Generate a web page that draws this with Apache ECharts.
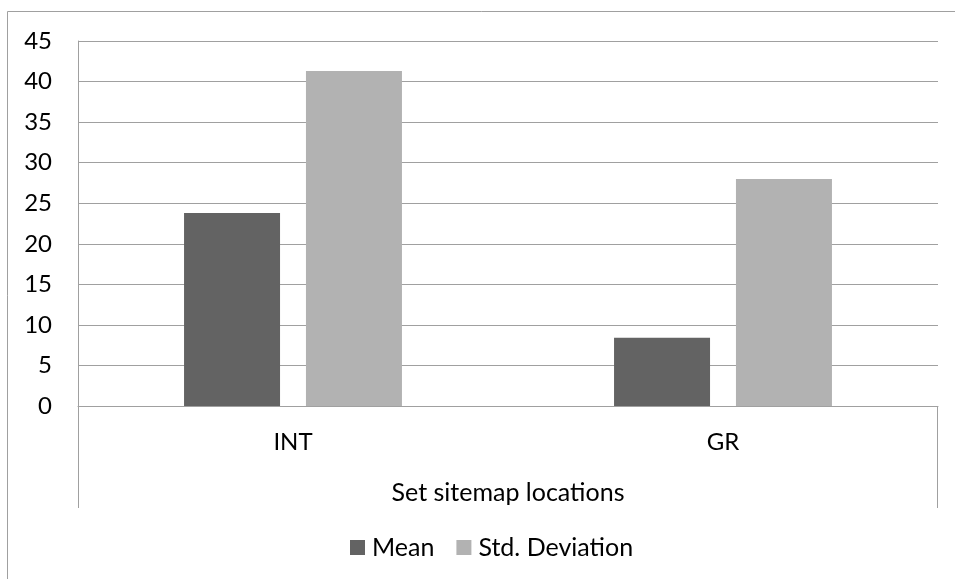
<!DOCTYPE html>
<html>
<head>
<meta charset="utf-8">
<script src="https://cdn.jsdelivr.net/npm/echarts@6/dist/echarts.min.js"></script>
<style>
html,body{margin:0;padding:0;background:#fff;}
#chart{width:955px;height:579px;}
</style>
</head>
<body>
<div id="chart"></div>
<script>
const categories = ['INT', 'GR'];
const meanValues = [23.8, 8.4];
const stdValues = [41.3, 28.0];
const seriesNames = ['Mean', 'Std. Deviation'];
const axisTitle = 'Set sitemap locations';

const FONT = 'Lato';
const FS = 24;
const chart = echarts.init(document.getElementById('chart'), null, {renderer: 'canvas'});
chart.setOption({
  animation: false,
  backgroundColor: '#ffffff',
  textStyle: {fontFamily: FONT},
  grid: {left: 78, right: 17, top: 41, bottom: 173, containLabel: false},
  legend: {
    data: seriesNames,
    left: 345,
    top: 530,
    itemWidth: 15,
    itemHeight: 15,
    itemGap: 22,
    icon: 'rect',
    textStyle: {fontFamily: FONT, fontSize: 25, color: '#000', padding: [0, 0, 0, 2]}
  },
  xAxis: {
    type: 'category',
    data: categories,
    axisLine: {show: true, lineStyle: {color: '#a0a0a0', width: 1}},
    axisTick: {show: false},
    axisLabel: {fontFamily: FONT, fontSize: FS, color: '#000', margin: 24},
    name: axisTitle,
    nameLocation: 'middle',
    nameGap: 74,
    nameTextStyle: {fontFamily: FONT, fontSize: 25, color: '#000'},
    splitLine: {show: false}
  },
  yAxis: {
    type: 'value',
    min: 0,
    max: 45,
    interval: 5,
    axisLine: {show: true, lineStyle: {color: '#a0a0a0', width: 1}},
    axisTick: {show: false},
    axisLabel: {fontFamily: FONT, fontSize: FS, color: '#000', margin: 26},
    splitLine: {show: true, lineStyle: {color: '#a0a0a0', width: 1}}
  },
  series: [
    {
      name: seriesNames[0],
      type: 'bar',
      data: meanValues,
      barWidth: 96,
      barGap: '27%',
      itemStyle: {color: '#636363'}
    },
    {
      name: seriesNames[1],
      type: 'bar',
      data: stdValues,
      barWidth: 96,
      itemStyle: {color: '#b2b2b2'}
    }
  ],
  graphic: [
    {type: 'rect', shape: {x: 7.5, y: 11.5, width: 1000, height: 1000}, style: {fill: 'none', stroke: '#a0a0a0', lineWidth: 1}, z: -1},
    {type: 'line', shape: {x1: 78.5, y1: 406, x2: 78.5, y2: 508}, style: {stroke: '#a0a0a0', lineWidth: 1}},
    {type: 'line', shape: {x1: 937.5, y1: 406, x2: 937.5, y2: 508}, style: {stroke: '#a0a0a0', lineWidth: 1}}
  ]
});
</script>
</body>
</html>
